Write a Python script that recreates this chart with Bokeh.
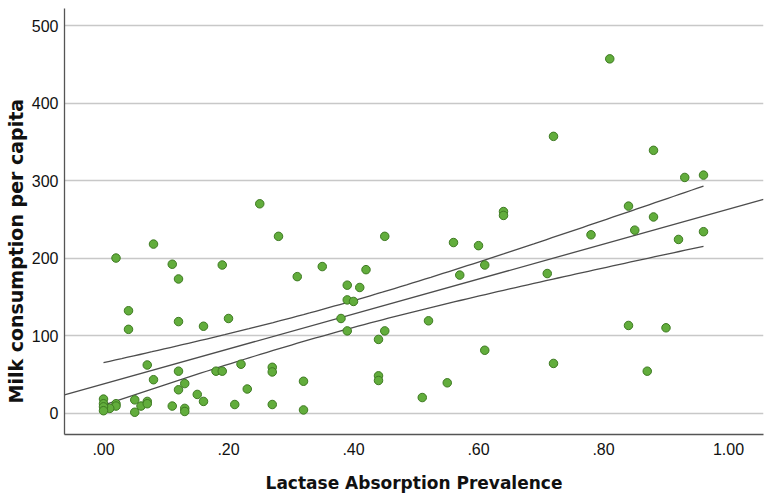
import numpy as np
from bokeh.plotting import figure
from bokeh.models import FixedTicker, Range1d, Title
from bokeh.embed import file_html
from bokeh.resources import INLINE

# Lactase absorption prevalence (x) and milk consumption per capita (y)
lactase = [0.08, 0.02, 0.11, 0.12, 0.19, 0.31, 0.04, 0.04, 0.12, 0.16,
           0.20, 0.07, 0.08, 0.12, 0.12, 0.13, 0.15, 0.16, 0.18, 0.19,
           0.22, 0.23, 0.21, 0.27, 0.27, 0.27, 0.32, 0.32, 0.11, 0.13,
           0.13, 0.05, 0.05, 0.06, 0.07, 0.07, 0.02, 0.02, 0.01, 0.00,
           0.00, 0.00, 0.00,
           0.25, 0.28, 0.45, 0.56, 0.60, 0.61, 0.57, 0.35, 0.42, 0.39,
           0.41, 0.39, 0.40, 0.38, 0.39, 0.45, 0.44, 0.52, 0.61, 0.44,
           0.44, 0.51, 0.55,
           0.88, 0.93, 0.96, 0.64, 0.64, 0.84, 0.88, 0.78, 0.85, 0.92,
           0.96, 0.71, 0.84, 0.90, 0.72, 0.87, 0.81, 0.72]
milk = [218, 200, 192, 173, 191, 176, 132, 108, 118, 112,
        122, 62, 43, 54, 30, 38, 24, 15, 54, 54,
        63, 31, 11, 59, 53, 11, 41, 4, 9, 6,
        2, 17, 1, 9, 15, 12, 12, 9, 6, 18,
        12, 8, 3,
        270, 228, 228, 220, 216, 191, 178, 189, 185, 165,
        162, 146, 144, 122, 106, 106, 95, 119, 81, 48,
        42, 20, 39,
        339, 304, 307, 260, 255, 267, 253, 230, 236, 224,
        234, 180, 113, 110, 64, 54, 457, 357]

x_ticks = [0.0, 0.2, 0.4, 0.6, 0.8, 1.0]
y_ticks = [0, 100, 200, 300, 400, 500]

x = np.array(lactase, dtype=float)
y = np.array(milk, dtype=float)
n = len(x)

# OLS fit and 95% confidence band of the mean
b1, b0 = np.polyfit(x, y, 1)
resid = y - (b0 + b1 * x)
s = np.sqrt(np.sum(resid ** 2) / (n - 2))
sxx = np.sum((x - x.mean()) ** 2)
t_crit = 1.99
xb = np.linspace(x.min(), x.max(), 100)
se = s * np.sqrt(1.0 / n + (xb - x.mean()) ** 2 / sxx)
yb = b0 + b1 * xb

x0, x1 = -0.0624, 1.056
y0, y1 = -27.7, 522

p = figure(frame_width=699, frame_height=426, output_backend="svg", toolbar_location=None,
           x_range=Range1d(x0, x1), y_range=Range1d(y0, y1),
           min_border_left=64, min_border_right=1, min_border_top=8,
           min_border_bottom=58)
p.outline_line_color = None
p.background_fill_color = "white"
p.border_fill_color = "white"

p.xgrid.grid_line_color = None
p.ygrid.grid_line_color = "#c8c8c8"
p.ygrid.grid_line_width = 1.3

# regression line across the full range, CI curves over the data
xl = np.array([x0, x1])
p.line(xl, b0 + b1 * xl, line_color="#4d4d4d", line_width=1.3)
p.line(xb, yb + t_crit * se, line_color="#4d4d4d", line_width=1.3)
p.line(xb, yb - t_crit * se, line_color="#4d4d4d", line_width=1.3)

p.scatter(x, y, size=8.5, fill_color="#62ad3c", line_color="#3e7a22", line_width=1)

p.xaxis.ticker = FixedTicker(ticks=x_ticks)
p.xaxis.major_label_overrides = {t: ("%.2f" % t).lstrip("0") if t < 1 else "%.2f" % t for t in x_ticks}
p.yaxis.ticker = FixedTicker(ticks=y_ticks)

for ax in (p.xaxis[0], p.yaxis[0]):
    ax.major_tick_line_color = None
    ax.minor_tick_line_color = None
    ax.major_tick_out = 0
    ax.major_tick_in = 0
    ax.minor_tick_out = 0
    ax.minor_tick_in = 0
    ax.axis_line_color = "#555555"
    ax.axis_line_width = 1.3
    ax.major_label_text_font = "Liberation Sans"
    ax.major_label_text_font_size = "16px"
    ax.major_label_text_color = "#111111"
    ax.axis_label_text_font = "DejaVu Sans"
    ax.axis_label_text_font_style = "bold"
    ax.axis_label_text_color = "#111111"

p.xaxis.axis_label = "Lactase Absorption Prevalence"
p.xaxis.axis_label_text_font_size = "17px"
p.xaxis.major_label_standoff = 8
p.xaxis.axis_label_standoff = 15
p.yaxis.major_label_standoff = 6

ytitle = Title(text="Milk consumption per capita", align="left", offset=31,
               text_font="DejaVu Sans", text_font_style="bold",
               text_font_size="19px", text_color="#111111", standoff=4)
p.add_layout(ytitle, "left")

open("out.html", "w").write(file_html(p, INLINE))
